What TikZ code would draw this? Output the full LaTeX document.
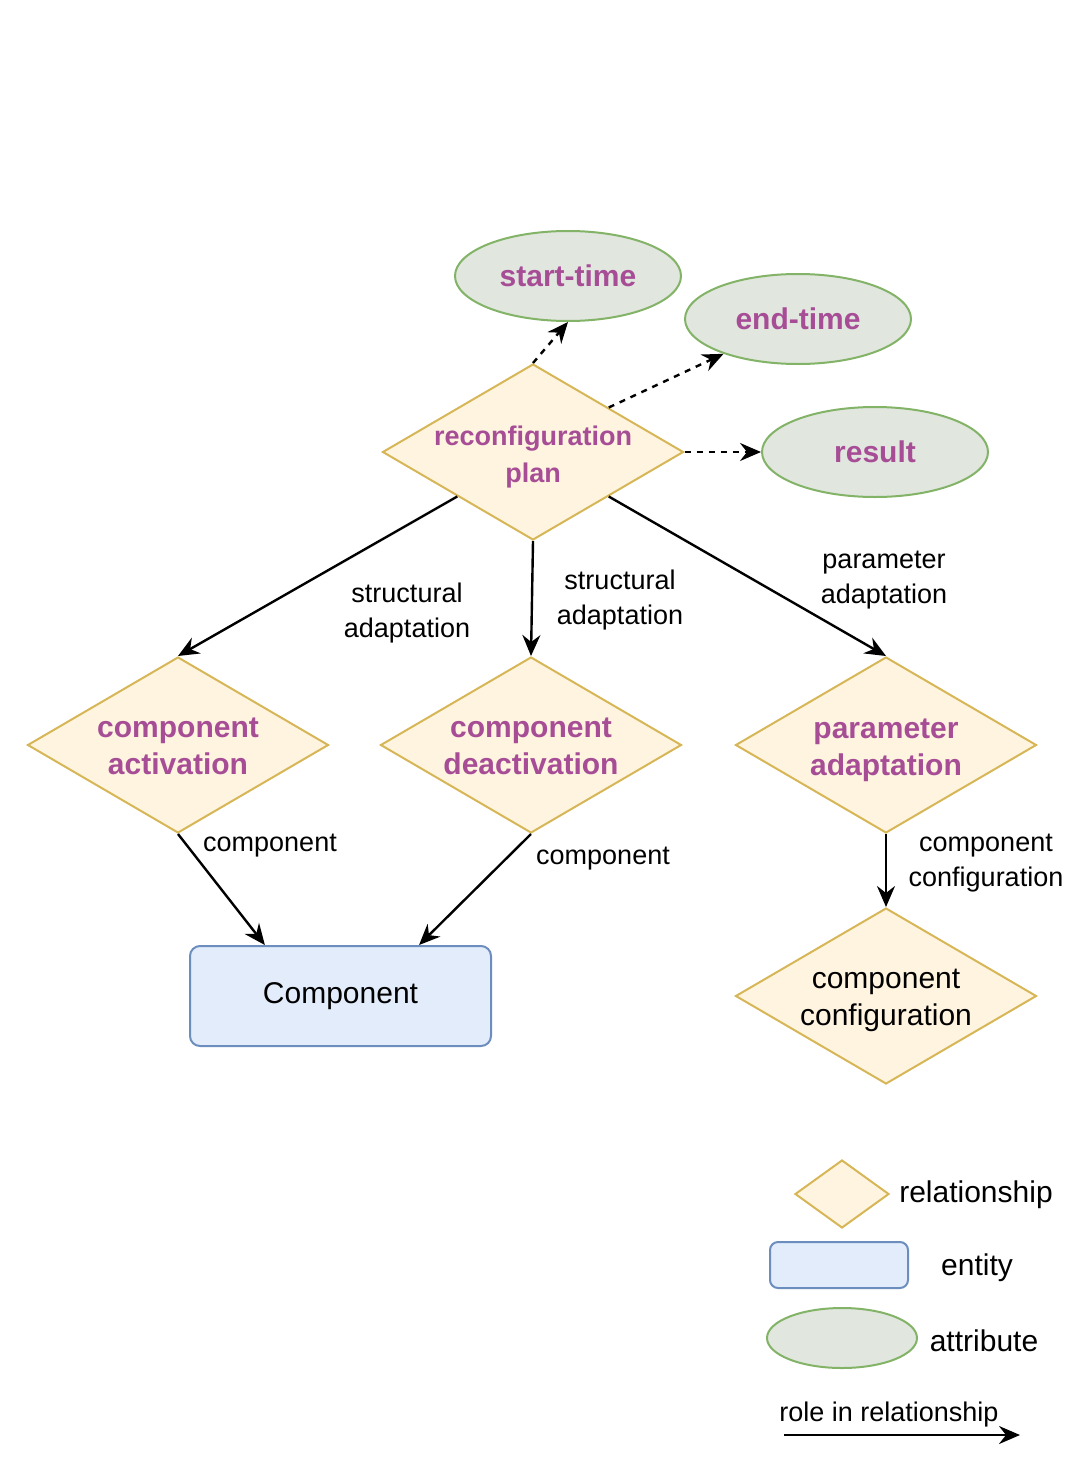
\documentclass[tikz,border=0pt]{standalone}
\usepackage{fontspec}
\setmainfont{Liberation Sans}
\usepackage{tikz}
\usetikzlibrary{arrows.meta,positioning,shapes.geometric}
\definecolor{relfill}{HTML}{FFF4DF}
\definecolor{reldraw}{HTML}{D6B656}
\definecolor{entfill}{HTML}{E2ECFB}
\definecolor{entdraw}{HTML}{6C8EBF}
\definecolor{attrfill}{HTML}{E1E6DF}
\definecolor{attrdraw}{HTML}{82B366}
\definecolor{purp}{RGB}{166,77,150}
\newcommand\bigtxt{\fontsize{30}{37}\selectfont}
\newcommand\midtxt{\fontsize{27}{37}\selectfont}
\newcommand\smtxt{\fontsize{27}{35}\selectfont}
\tikzset{
  rel/.style={diamond, draw=reldraw, fill=relfill, line width=2pt, minimum width=301pt, minimum height=176pt, inner sep=0pt},
  ent/.style={draw=entdraw, fill=entfill, rounded corners=10pt, line width=2pt, minimum width=301pt, minimum height=100pt},
  attr/.style={ellipse, draw=attrdraw, fill=attrfill, line width=2pt, minimum width=226pt, minimum height=90pt, font=\bigtxt\bfseries, text=purp},
  rtxt/.style={font=\bigtxt\bfseries, text=purp, align=center, yshift=-1pt},
  ptxt/.style={font=\bigtxt, align=center},
  lbl/.style={font=\smtxt, align=center, yshift=-3pt},
  arrow/.style={-{Stealth[length=21pt,width=18pt,inset=7pt]}, line width=2.4pt},
  dasharrow/.style={arrow, dash pattern=on 6pt off 6pt},
}
\begin{document}
\begin{tikzpicture}[x=1pt,y=-1pt]
  \useasboundingbox (0,0) rectangle (1080,1464);
  % attributes
  \node[attr] (st) at (568,276) {start-time};
  \node[attr] (et) at (798,319) {end-time};
  \node[attr] (res) at (875,452) {result};
  % relationships
  \node[rel, label={[rtxt, font=\midtxt\bfseries, yshift=-4pt]center:{reconfiguration\\plan}}] (plan) at (533,452) {};
  \node[rel, label={[rtxt]center:{component\\activation}}] (act) at (178,745) {};
  \node[rel, label={[rtxt]center:{component\\deactivation}}] (deact) at (531,745) {};
  \node[rel, label={[rtxt, yshift=-4pt]center:{parameter\\adaptation}}] (par) at (886,745) {};
  \node[rel, label={[ptxt, yshift=-4pt]center:{component\\configuration}}] (cfg) at (886,996) {};
  % entity
  \node[ent, font=\bigtxt] (comp) at (340.5,996) {Component};
  % connectors
  \draw[dasharrow] (plan.north) -- (st.south);
  \draw[dasharrow] (plan.north east) -- (et);
  \draw[dasharrow] (plan.east) -- (res.west);
  \draw[arrow] (plan.south west) -- (act.north);
  \draw[arrow] (plan.south) -- (deact.north);
  \draw[arrow] (plan.south east) -- (par.north);
  \draw[arrow] (act.south) -- (comp.146.5);
  \draw[arrow] (deact.south) -- (comp.33.5);
  \draw[arrow] (par.south) -- (cfg.north);
  % role labels
  \node[lbl] (l1) at (407,610) {structural\\adaptation};
  \node[lbl] (l2) at (620,597) {structural\\adaptation};
  \node[lbl] (l3) at (884,577) {parameter\\adaptation};
  \node[lbl] (l4) at (270,843) {component};
  \node[lbl] (l5) at (603,856) {component};
  \node[lbl] (l6) at (986,860) {component\\configuration};
  % legend
  \node[rel, minimum width=94pt, minimum height=68pt] (lrel) at (842,1194) {};
  \node[ent, minimum width=138pt, minimum height=46pt, rounded corners=8pt] (lent) at (839,1265) {};
  \node[attr, minimum width=150pt, minimum height=60pt] (lattr) at (842,1338) {};
  \node[ptxt, yshift=-2pt] (trel) at (976,1193) {relationship};
  \node[ptxt, yshift=-2pt] (tent) at (977,1266) {entity};
  \node[ptxt] (tattr) at (984,1341) {attribute};
  \coordinate (ra) at (784,1435);
  \coordinate (rb) at (1020,1435);
  \draw[arrow] (ra) -- (rb);
  \node[lbl] (trole) at (889,1412) {role in relationship};
\end{tikzpicture}
\end{document}
